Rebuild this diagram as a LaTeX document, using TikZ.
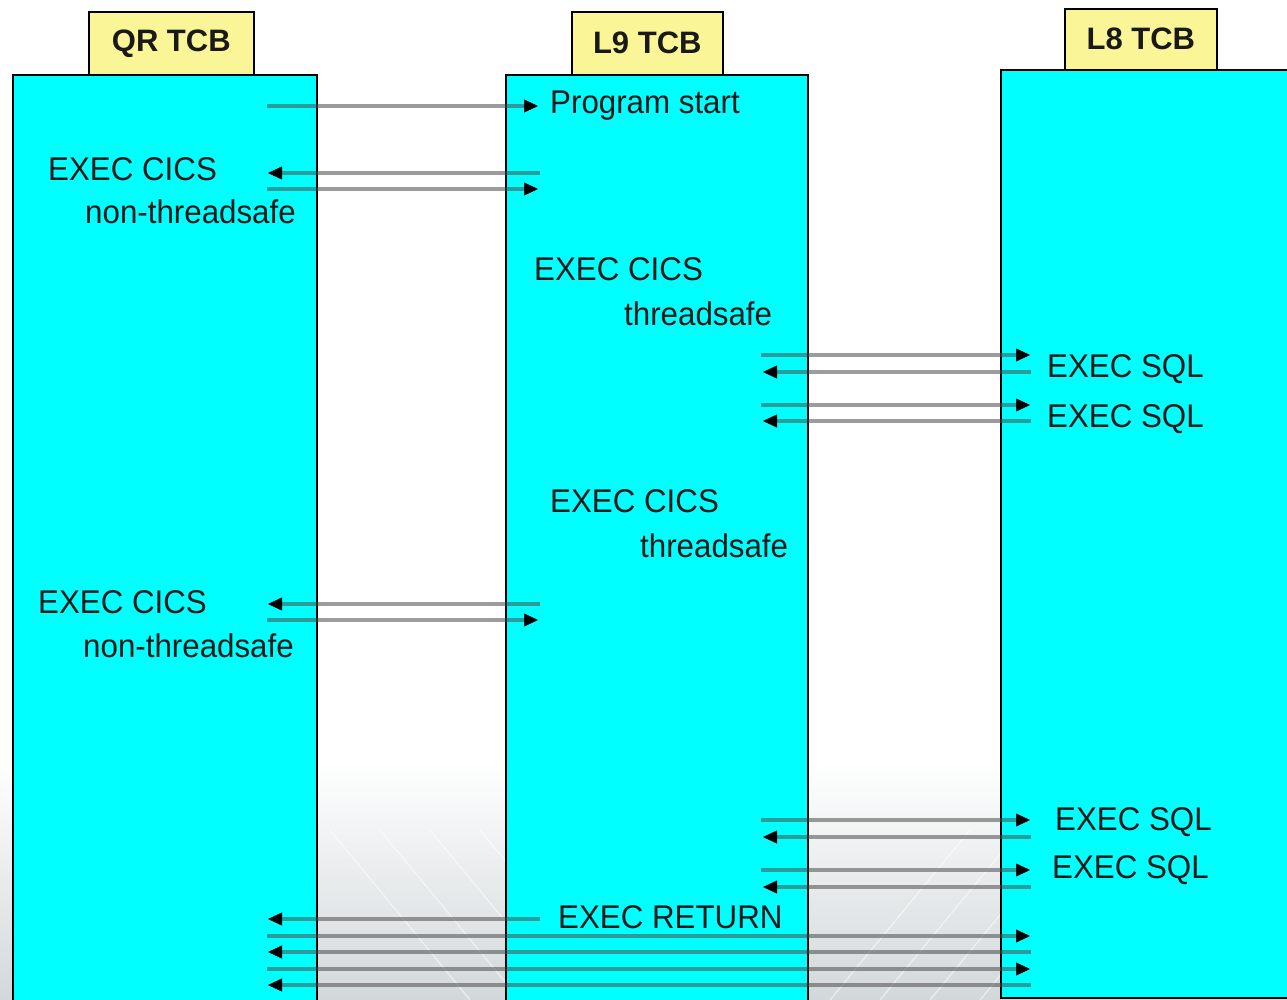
\documentclass[tikz,border=0pt]{standalone}
\usepackage{fontspec}
\setmainfont{Liberation Sans}
\usetikzlibrary{arrows.meta,calc}
\definecolor{lanecyan}{RGB}{0,255,255}
\definecolor{hdryellow}{RGB}{250,245,150}
\definecolor{msggray}{RGB}{75,75,75}
\definecolor{bgbottom}{RGB}{210,216,218}
\newcommand\msgarrow[4]{%
  \coordinate (#1s) at (#2,#4);
  \coordinate (#1e) at (#3,#4);
  \draw[msgline, shorten >=8pt] (#1s) -- (#1e);
  \draw[tiparrow] ($(#1e)!2pt!(#1s)$) -- (#1e);
}
\begin{document}
\begin{tikzpicture}[x=1pt,y=-1pt,
  lane/.style={draw=black, line width=2pt, fill=lanecyan, inner sep=0pt, anchor=north west},
  hdr/.style={draw=black, line width=1.6pt, fill=hdryellow, inner sep=0pt, anchor=north west,
              font=\fontsize{31}{31}\selectfont\bfseries, text=black!90},
  lbl/.style={anchor=base west, inner sep=0pt, font=\fontsize{31.3}{32}\selectfont, text=black!90, yscale=1.05},
  msgline/.style={draw=msggray, draw opacity=0.55, line width=4.8pt},
  tiparrow/.style={draw=black, line width=0.5pt, -{Triangle[length=14pt,width=13pt]}},
  streak/.style={draw=white, line width=1.2pt, opacity=0.55},
]
\useasboundingbox (0,0) rectangle (1287,1000);
\clip (0,0) rectangle (1287,1000);
\fill[white] (0,0) rectangle (1287,1000);
\shade[top color=white, bottom color=bgbottom] (0,760) rectangle (1287,1000);
% faint background streaks
\foreach \sx in {330,380,430,480}{\draw[streak] (\sx,830) -- (\sx+140,1000);}
\foreach \sx in {830,880,930,980}{\draw[streak] (\sx,1000) -- (\sx+140,830);}

% lanes
\node[lane, minimum width=304pt, minimum height=940pt] (qr) at (12,74) {};
\node[lane, minimum width=302pt, minimum height=940pt] (l9) at (505,74) {};
\node[lane, minimum width=320pt, minimum height=928pt] (l8) at (1000,69) {};

% headers
\node[hdr, minimum width=165pt, minimum height=63pt] (qrh) at (88,11) {QR TCB};
\node[hdr, minimum width=151pt, minimum height=63pt] (l9h) at (571,11) {L9 TCB};
\node[hdr, minimum width=152pt, minimum height=61pt] (l8h) at (1064,8) {L8 TCB};

% messages
\msgarrow{a1}{267}{538}{106}
\msgarrow{a2}{540}{268}{173}
\msgarrow{a3}{267}{538}{189}
\msgarrow{a4}{761}{1030}{355}
\msgarrow{a5}{1031}{763}{372}
\msgarrow{a6}{761}{1030}{405}
\msgarrow{a7}{1031}{763}{421}
\msgarrow{a8}{540}{268}{604}
\msgarrow{a9}{267}{538}{620}
\msgarrow{a10}{761}{1030}{820}
\msgarrow{a11}{1031}{763}{837}
\msgarrow{a12}{761}{1030}{870}
\msgarrow{a13}{1031}{763}{887}
\msgarrow{a14}{540}{268}{919}
\msgarrow{a15}{267}{1030}{936}
\msgarrow{a16}{1031}{268}{952}
\msgarrow{a17}{267}{1030}{969}
\msgarrow{a18}{1031}{268}{985}

% labels
\node[lbl] (t1) at (550,114) {Program start};
\node[lbl] (t2) at (48,181) {EXEC CICS};
\node[lbl] (t3) at (85,224) {non-threadsafe};
\node[lbl] (t4) at (534,280) {EXEC CICS};
\node[lbl] (t5) at (624,325) {threadsafe};
\node[lbl] (t6) at (1047,377) {EXEC SQL};
\node[lbl] (t7) at (1047,427) {EXEC SQL};
\node[lbl] (t8) at (550,512) {EXEC CICS};
\node[lbl] (t9) at (640,557) {threadsafe};
\node[lbl] (t10) at (38,613) {EXEC CICS};
\node[lbl] (t11) at (83,657) {non-threadsafe};
\node[lbl] (t12) at (1055,830) {EXEC SQL};
\node[lbl] (t13) at (1052,878) {EXEC SQL};
\node[lbl] (t14) at (558,928) {EXEC RETURN};
\end{tikzpicture}
\end{document}
